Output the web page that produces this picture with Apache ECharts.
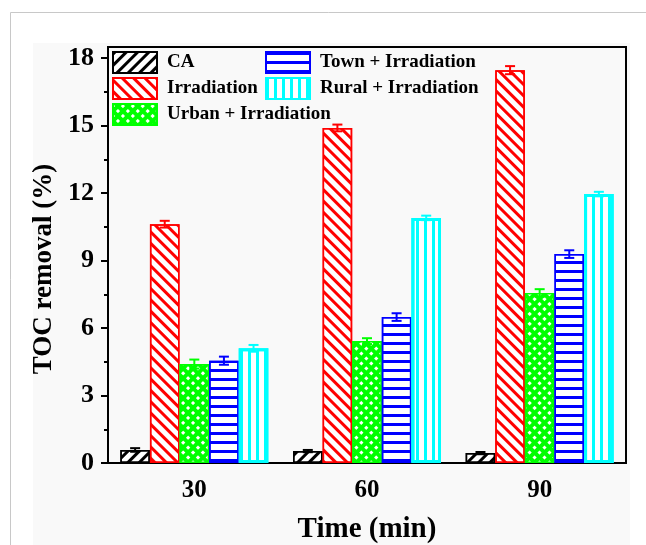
<!DOCTYPE html>
<html>
<head>
<meta charset="utf-8">
<style>
    html,body{margin:0;padding:0;background:#fff;}
    #tocChart{width:646px;height:545px;}
</style>
<script src="https://cdn.jsdelivr.net/npm/echarts@6/dist/echarts.min.js"></script>
</head>
<body>
<div id="tocChart"></div>
<script>
    // 数据
    var times = ['30', '60', '90'];
    var seriesNames = ['CA', 'Irradiation', 'Urban + Irradiation', 'Town + Irradiation', 'Rural + Irradiation'];
    var caVals = [0.58, 0.53, 0.44];
    var irrVals = [10.62, 14.9, 17.47];
    var urbanVals = [4.4, 5.42, 7.56];
    var townVals = [4.55, 6.49, 9.29];
    var ruralVals = [5.1, 10.9, 11.96];
    var caErr = [0.08, 0.05, 0.05];
    var irrErr = [0.15, 0.15, 0.18];
    var urbanErr = [0.2, 0.13, 0.17];
    var townErr = [0.18, 0.17, 0.17];
    var ruralErr = [0.15, 0.1, 0.1];
    var yTicks = [0, 3, 6, 9, 12, 15, 18];
    var yMinorTicks = [1.5, 4.5, 7.5, 10.5, 13.5, 16.5];

    var allVals = [caVals, irrVals, urbanVals, townVals, ruralVals];
    var allErr = [caErr, irrErr, urbanErr, townErr, ruralErr];
    var colors = ['#000000', '#ff0000', '#00ff00', '#0000ff', '#00ffff'];

    var barW = 29.6;
    var font = 'Liberation Serif';

    // 每个柱子的填充图案
    var decals = [
        {color: '#000', symbol: 'rect', dashArrayX: [1, 0], dashArrayY: [2.6, 4.2], rotation: -Math.PI / 4},
        {color: '#f00', symbol: 'rect', dashArrayX: [1, 0], dashArrayY: [2.2, 4.2], rotation: Math.PI / 4},
        {color: '#fff', symbol: 'rect', dashArrayX: [2.4, 4], dashArrayY: [2.4, 4], rotation: Math.PI / 4},
        {color: '#00f', symbol: 'rect', dashArrayX: [1, 0], dashArrayY: [2.8, 5.4]},
        {color: '#0ff', symbol: 'rect', dashArrayX: [2.6, 4.8], dashArrayY: [1, 0]}
    ];
    var fills = ['#fff', '#fff', '#00ff00', '#fff', '#fff'];
    var borders = [1.5, 1.5, 1.5, 1.5, 3];

    var series = [];
    for (var s = 0; s < seriesNames.length; s++) {
        series.push({
            name: seriesNames[s],
            type: 'bar',
            barWidth: barW,
            barGap: '0%',
            data: allVals[s],
            itemStyle: {
                color: fills[s],
                borderColor: colors[s],
                borderWidth: borders[s],
                decal: decals[s]
            }
        });
    }

    // 误差棒
    var errData = [];
    for (var s2 = 0; s2 < seriesNames.length; s2++) {
        for (var i = 0; i < times.length; i++) {
            errData.push([i, allVals[s2][i] - allErr[s2][i], allVals[s2][i] + allErr[s2][i], s2]);
        }
    }
    series.push({
        type: 'custom',
        name: 'err',
        z: 5,
        silent: true,
        data: errData,
        renderItem: function (params, api) {
            var xi = api.value(0);
            var lo = api.coord([xi, api.value(1)]);
            var hi = api.coord([xi, api.value(2)]);
            var k = api.value(3);
            var x = hi[0] + (k - 2) * barW;
            var c = colors[k];
            var st = {stroke: c, lineWidth: 2};
            return {
                type: 'group',
                children: [
                    {type: 'line', shape: {x1: x, y1: lo[1], x2: x, y2: hi[1]}, style: st},
                    {type: 'line', shape: {x1: x - 5, y1: hi[1], x2: x + 5, y2: hi[1]}, style: st},
                    {type: 'line', shape: {x1: x - 5, y1: lo[1], x2: x + 5, y2: lo[1]}, style: st}
                ]
            };
        }
    });

    var legendText = {fontFamily: font, fontWeight: 'bold', fontSize: 19, lineHeight: 21, color: '#000', padding: [0, 0, 0, 5]};

    var option = {
        backgroundColor: '#fff',
        animation: false,
        graphic: [
            {type: 'rect', z: -10, shape: {x: 10.5, y: 12.5, width: 700, height: 600}, style: {fill: '#fff', stroke: '#c8c8c8', lineWidth: 1}},
            {type: 'rect', z: -9, shape: {x: 33, y: 43, width: 597, height: 502}, style: {fill: '#f9f9f9'}}
        ],
        grid: {
            left: 108, right: 20, top: 47, bottom: 82,
            outerBoundsMode: 'none',
            containLabel: false,
            show: true,
            borderColor: '#000',
            borderWidth: 2
        },
        legend: [
            {
                data: seriesNames.slice(0, 3),
                orient: 'vertical',
                left: 112, top: 51,
                padding: 0,
                icon: 'rect',
                itemWidth: 44, itemHeight: 21, itemGap: 3,
                selectedMode: false,
                textStyle: legendText
            },
            {
                data: seriesNames.slice(3),
                orient: 'vertical',
                left: 265, top: 51,
                padding: 0,
                icon: 'rect',
                itemWidth: 44, itemHeight: 21, itemGap: 3,
                selectedMode: false,
                textStyle: legendText
            }
        ],
        xAxis: [
            {
                type: 'category',
                data: times,
                position: 'bottom',
                name: 'Time (min)',
                nameLocation: 'middle',
                nameGap: 52,
                nameTextStyle: {fontFamily: font, fontWeight: 'bold', fontSize: 29, color: '#000'},
                axisLine: {lineStyle: {color: '#000', width: 2}},
                axisTick: {alignWithLabel: true, length: 7, lineStyle: {color: '#000', width: 2}},
                axisLabel: {fontFamily: font, fontWeight: 'bold', fontSize: 25, color: '#000', margin: 15}
            },
            {
                // 组间的短刻度
                type: 'category',
                data: times,
                position: 'bottom',
                axisLine: {show: false},
                axisTick: {length: 4, lineStyle: {color: '#000', width: 2}},
                axisLabel: {show: false}
            }
        ],
        yAxis: [
            {
                type: 'value',
                min: 0, max: 18.5,
                name: 'TOC removal (%)',
                nameLocation: 'middle',
                nameGap: 48,
                nameTextStyle: {fontFamily: font, fontWeight: 'bold', fontSize: 27, color: '#000', padding: [0, 28, 0, 0]},
                splitLine: {show: false},
                axisLine: {show: true, lineStyle: {color: '#000', width: 2}},
                axisTick: {show: true, length: 7, customValues: yTicks, lineStyle: {color: '#000', width: 2}},
                axisLabel: {customValues: yTicks, fontFamily: font, fontWeight: 'bold', fontSize: 26, color: '#000', margin: 14}
            },
            {
                // 次刻度
                type: 'value',
                min: 0, max: 18.5,
                position: 'left',
                splitLine: {show: false},
                axisLine: {show: false},
                axisTick: {show: true, length: 4, customValues: yMinorTicks, lineStyle: {color: '#000', width: 2}},
                axisLabel: {show: false}
            }
        ],
        series: series
    };

    var chart = echarts.init(document.getElementById('tocChart'));
    chart.setOption(option);
</script>
</body>
</html>
